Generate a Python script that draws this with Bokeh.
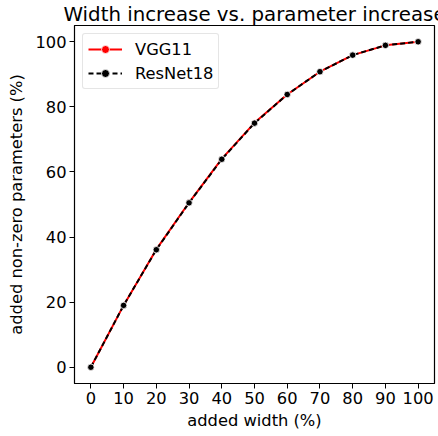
from bokeh.plotting import figure
from bokeh.models import Range1d, FixedTicker, Legend, LegendItem
from bokeh.embed import file_html
from bokeh.resources import INLINE

widths = [0, 10, 20, 30, 40, 50, 60, 70, 80, 90, 100]
vgg11 = [0, 19, 36.2, 50.6, 64, 75.1, 83.8, 90.8, 95.9, 98.9, 100]
resnet18 = [0, 19, 36.1, 50.5, 63.9, 75.0, 83.8, 90.8, 95.9, 98.9, 100]
x_ticks = [0, 10, 20, 30, 40, 50, 60, 70, 80, 90, 100]
y_ticks = [0, 20, 40, 60, 80, 100]

FONT = "DejaVu Sans"
FS = "16.3px"

p = figure(width=438, height=436, output_backend="svg", toolbar_location=None,
           x_range=Range1d(-5, 105), y_range=Range1d(-5, 105),
           title="Width increase vs. parameter increase",
           min_border_left=74, min_border_right=4, min_border_top=0, min_border_bottom=53)

p.title.text_font = FONT
p.title.text_font_size = "19.8px"
p.title.text_font_style = "normal"
p.title.text_color = "black"
p.title.align = "center"
p.title.standoff = 0
p.title.offset = 0

p.xgrid.visible = False
p.ygrid.visible = False
p.outline_line_color = "black"
p.outline_line_width = 1.2

for ax, ticks in ((p.xaxis, x_ticks), (p.yaxis, y_ticks)):
    ax.ticker = FixedTicker(ticks=ticks)
    ax.minor_tick_line_color = None
    ax.major_tick_out = 5
    ax.major_tick_in = 0
    ax.major_label_text_font = FONT
    ax.major_label_text_font_size = FS
    ax.major_label_text_color = "black"
    ax.axis_label_text_font = FONT
    ax.axis_label_text_font_size = FS
    ax.axis_label_text_font_style = "normal"
    ax.axis_label_text_color = "black"
    ax.axis_line_color = "black"
    ax.major_tick_line_color = "black"
    ax.major_label_standoff = 3

p.xaxis.axis_label = "added width (%)"
p.yaxis.axis_label = "added non-zero parameters (%)"
p.xaxis.axis_label_standoff = 4
p.yaxis.axis_label_standoff = 6

l1 = p.line(widths, vgg11, line_color="red", line_width=2)
s1 = p.scatter(widths, vgg11, size=6, fill_color="red", line_color="white", line_width=0.8)
l2 = p.line(widths, resnet18, line_color="black", line_width=2, line_dash="5 3")
s2 = p.scatter(widths, resnet18, size=6.5, fill_color="black", line_color="white", line_width=0.8)

legend = Legend(items=[LegendItem(label="VGG11", renderers=[l1, s1]),
                       LegendItem(label="ResNet18", renderers=[l2, s2])],
                location="top_left")
legend.label_text_font = FONT
legend.label_text_font_size = FS
legend.label_text_color = "black"
legend.border_line_color = "#cccccc"
legend.border_line_width = 1
legend.border_radius = 3
legend.glyph_width = 34
legend.glyph_height = 20
legend.label_height = 20
legend.spacing = 4
legend.padding = 5
legend.margin = 8
legend.label_standoff = 13
p.add_layout(legend)

open("out.html", "w").write(file_html(p, INLINE))
